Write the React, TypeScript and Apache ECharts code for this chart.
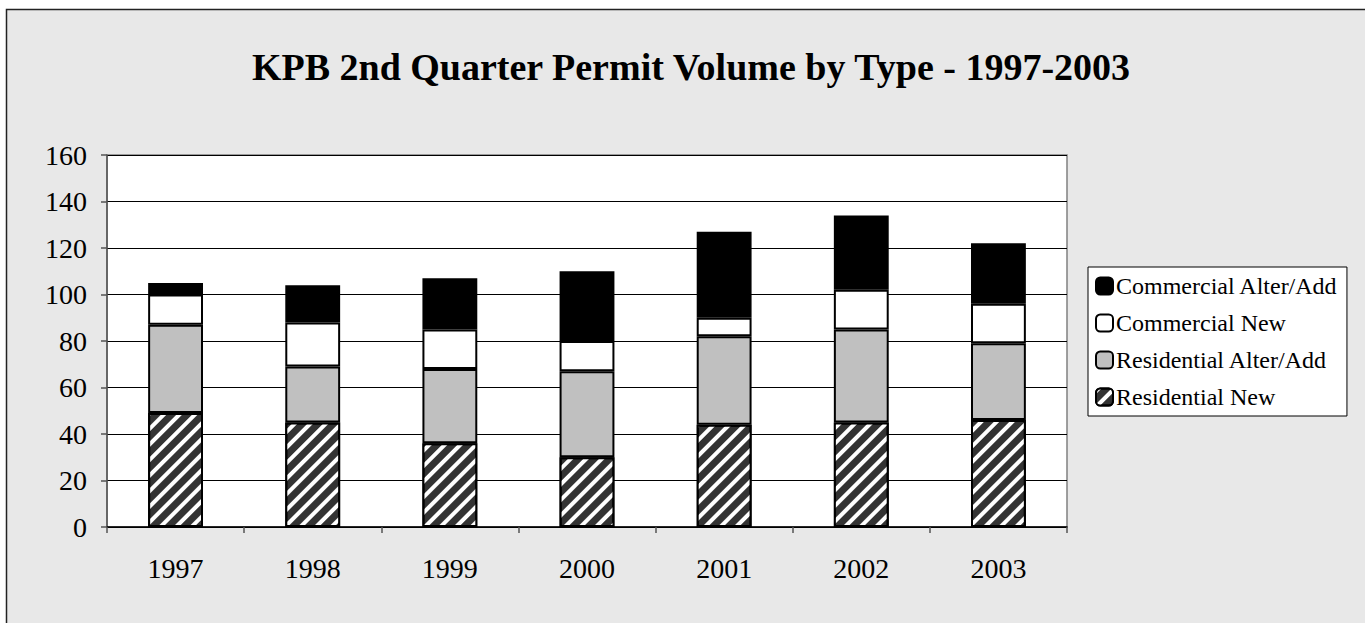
import React, { useEffect, useRef } from "react";
import * as echarts from "echarts";

const years = ["1997", "1998", "1999", "2000", "2001", "2002", "2003"];
const residentialNew = [49, 45, 36, 30, 44, 45, 46];
const residentialAlter = [38, 24, 32, 37, 38, 40, 33];
const commercialNew = [13, 19, 17, 13, 8, 17, 17];
const commercialAlter = [5, 16, 22, 30, 37, 32, 26];
const legendOrder = ["Commercial Alter/Add", "Commercial New", "Residential Alter/Add", "Residential New"];
const titleText = "KPB 2nd Quarter Permit Volume by Type - 1997-2003";

const FONT = "'Liberation Serif', 'Times New Roman', serif";

export default function App() {
  const ref = useRef<HTMLDivElement>(null);
  useEffect(() => {
    if (!ref.current) return;
    const chart = echarts.init(ref.current, null, { renderer: "svg" });
    const border = { borderColor: "#000", borderWidth: 2 };
    const mk = (name: string, data: number[], itemStyle: any) => ({
      name,
      type: "bar",
      stack: "total",
      data,
      barWidth: "40%",
      itemStyle: { ...border, ...itemStyle },
      emphasis: { disabled: true },
    });
    chart.setOption({
      animation: false,
      backgroundColor: "#fff",
      title: {
        text: titleText,
        left: 686,
        textAlign: "center",
        top: 43,
        textStyle: { fontFamily: FONT, fontWeight: "bold", fontSize: 38, color: "#000" },
      },
      graphic: [
        {
          type: "rect",
          z: -10,
          silent: true,
          shape: { x: 6.5, y: 9.5, width: 1400, height: 700 },
          style: { fill: "#e8e8e8", stroke: "#222", lineWidth: 1.5 },
        },
      ],
      legend: {
        orient: "vertical",
        left: 1088,
        top: 267,
        data: legendOrder,
        backgroundColor: "#fff",
        borderColor: "#000",
        borderWidth: 1,
        padding: [7, 9, 7, 7],
        itemGap: 13,
        itemWidth: 17,
        itemHeight: 17,
        selectedMode: false,
        textStyle: { fontFamily: FONT, fontSize: 24, color: "#000", padding: [0, 0, 0, -2] },
      },
      grid: {
        left: 107,
        right: 298,
        top: 155,
        bottom: 96,
        show: true,
        backgroundColor: "#fff",
        borderColor: "#808080",
        borderWidth: 1.5,
      },
      xAxis: {
        type: "category",
        data: years,
        boundaryGap: true,
        axisLine: { lineStyle: { color: "#000", width: 1.5 } },
        axisTick: { show: true, length: 6, lineStyle: { color: "#555", width: 1.5 } },
        axisLabel: { fontFamily: FONT, fontSize: 28, color: "#000", margin: 27 },
      },
      yAxis: {
        type: "value",
        min: 0,
        max: 160,
        interval: 20,
        axisLine: { show: true, lineStyle: { color: "#555", width: 1.5 } },
        axisTick: { show: true, length: 6, lineStyle: { color: "#555", width: 1.5 } },
        axisLabel: { fontFamily: FONT, fontSize: 28, color: "#000", margin: 20 },
        splitLine: { show: true, lineStyle: { color: "#000", width: 1 } },
      },
      series: [
        mk("Residential New", residentialNew, {
          color: "#333",
          decal: {
            symbol: "rect",
            symbolSize: 1,
            color: "#fff",
            dashArrayX: [1, 0],
            dashArrayY: [3.5, 7],
            rotation: -Math.PI / 4,
          },
        }),
        mk("Residential Alter/Add", residentialAlter, { color: "#c0c0c0" }),
        mk("Commercial New", commercialNew, { color: "#fff" }),
        mk("Commercial Alter/Add", commercialAlter, { color: "#000" }),
      ],
    });
    return () => chart.dispose();
  }, []);
  return (
    <div
      ref={ref}
      style={{ position: "fixed", left: 0, top: 0, width: 1365, height: 623 }}
    />
  );
}
